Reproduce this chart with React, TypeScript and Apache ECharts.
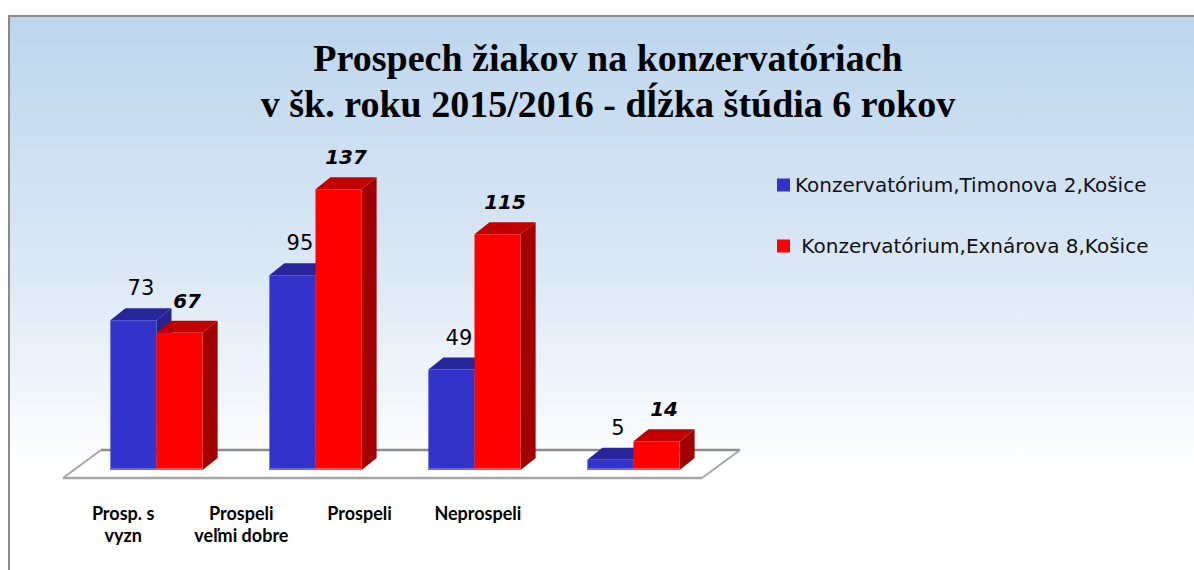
import React, { useEffect, useRef } from "react";
import * as echarts from "echarts";

const categories = ["Prosp. s\nvyzn", "Prospeli\nveľmi dobre", "Prospeli", "Neprospeli"];
const timonova = [73, 95, 49, 5];
const exnarova = [67, 137, 115, 14];
const seriesNames = ["Konzervatórium,Timonova 2,Košice", " Konzervatórium,Exnárova 8,Košice"];
const titleLines = ["Prospech žiakov na konzervatóriach", "v šk. roku 2015/2016 - dĺžka štúdia 6 rokov"];

const DX = 15;
const DY = 12;

type Palette = { front: string; top: string; side: string; light: string };

function makeRender(side: "left" | "right", pal: Palette, labelStyle: any) {
  return (params: any, api: any) => {
    const idx = api.value(0);
    const val = api.value(1);
    const top = api.coord([idx, val]);
    const base = api.coord([idx, 0]);
    const band = api.size([1, 0])[0];
    const w = band * 0.29;
    const x0 = side === "left" ? top[0] - w : top[0];
    const x1 = x0 + w;
    const yT = top[1];
    const yB = base[1];
    return {
      type: "group",
      children: [
        {
          type: "polygon",
          shape: { points: [[x1, yT], [x1 + DX, yT - DY], [x1 + DX, yB - DY], [x1, yB]] },
          style: { fill: pal.side },
        },
        {
          type: "polygon",
          shape: { points: [[x0, yT], [x0 + DX, yT - DY], [x1 + DX, yT - DY], [x1, yT]] },
          style: { fill: pal.top },
        },
        {
          type: "rect",
          shape: { x: x0, y: yT, width: w, height: yB - yT },
          style: { fill: pal.front },
        },
        {
          type: "rect",
          shape: { x: x0, y: yB - 2, width: w, height: 2 },
          style: { fill: pal.light },
        },
        {
          type: "text",
          style: {
            text: String(val),
            x: (x0 + x1) / 2 + DX / 2,
            y: yT - DY - 20,
            align: "center",
            verticalAlign: "middle",
            fill: "#000",
            ...labelStyle,
          },
        },
      ],
    };
  };
}

export default function App() {
  const ref = useRef<HTMLDivElement>(null);
  useEffect(() => {
    if (!ref.current) return;
    const chart = echarts.init(ref.current, undefined, { renderer: "svg" });
    const bluePal = { front: "#3333cc", top: "#26269a", side: "#23238f", light: "#6a6ad8" };
    const redPal = { front: "#ff0000", top: "#c00000", side: "#a00000", light: "#ff5050" };
    chart.setOption({
      animation: false,
      backgroundColor: "#ffffff",
      title: {
        text: titleLines.join("\n"),
        left: 608,
        top: 35,
        padding: 0,
        textAlign: "center",
        textStyle: {
          fontFamily: "Liberation Serif",
          fontWeight: "bold",
          fontSize: 38,
          lineHeight: 46,
          color: "#000",
        },
      },
      legend: {
        orient: "vertical",
        left: 777,
        top: 175,
        padding: 0,
        itemWidth: 13,
        itemHeight: 13,
        itemGap: 41,
        icon: "rect",
        data: seriesNames,
        textStyle: { fontFamily: "DejaVu Sans", fontSize: 20, color: "#111" },
      },
      graphic: [
        {
          type: "rect",
          z: -20,
          silent: true,
          shape: { x: 9, y: 16, width: 1200, height: 570 },
          style: {
            fill: new echarts.graphic.LinearGradient(0, 0, 0, 1, [
              { offset: 0, color: "#bdd6ee" },
              { offset: 0.45, color: "#dce8f5" },
              { offset: 0.8, color: "#ffffff" },
              { offset: 1, color: "#ffffff" },
            ]),
            stroke: "#8a8a8a",
            lineWidth: 2,
          },
        },
        {
          type: "polygon",
          z: -10,
          silent: true,
          shape: { points: [[63, 478], [101, 450], [740, 450], [702, 478]] },
          style: { fill: "rgba(255,255,255,0.7)" },
        },
        {
          type: "line",
          z: -9,
          silent: true,
          shape: { x1: 101, y1: 450, x2: 740, y2: 450 },
          style: { stroke: "#8c8c8c", lineWidth: 2.5 },
        },
        {
          type: "line",
          z: -9,
          silent: true,
          shape: { x1: 63, y1: 478, x2: 702, y2: 478 },
          style: { stroke: "#a6a6a6", lineWidth: 2.5 },
        },
        {
          type: "line",
          z: -9,
          silent: true,
          shape: { x1: 63, y1: 478, x2: 101, y2: 450 },
          style: { stroke: "#a6a6a6", lineWidth: 2 },
        },
        {
          type: "line",
          z: -9,
          silent: true,
          shape: { x1: 702, y1: 478, x2: 740, y2: 450 },
          style: { stroke: "#a6a6a6", lineWidth: 2 },
        },
      ],
      grid: [
        { left: 77, width: 636, top: 183, bottom: 100 },
        { left: 64, width: 473, top: 300, bottom: 76 },
      ],
      xAxis: [
        { type: "category", gridIndex: 0, data: categories, show: false },
        {
          type: "category",
          gridIndex: 1,
          data: categories,
          axisLine: { show: false },
          axisTick: { show: false },
          axisLabel: {
            interval: 0,
            margin: 8,
            fontFamily: "Lato",
            fontWeight: "bold",
            fontSize: 18,
            lineHeight: 22,
            color: "#000",
          },
        },
      ],
      yAxis: [
        { type: "value", gridIndex: 0, min: 0, max: 140, show: false },
        { type: "value", gridIndex: 1, show: false },
      ],
      series: [
        {
          type: "custom",
          name: seriesNames[0],
          xAxisIndex: 0,
          yAxisIndex: 0,
          z: 10,
          itemStyle: { color: bluePal.front },
          data: timonova.map((v, i) => [i, v]),
          encode: { x: 0, y: 1 },
          renderItem: makeRender("left", bluePal, {
            fontFamily: "DejaVu Sans",
            fontSize: 21,
          }),
        },
        {
          type: "custom",
          name: seriesNames[1],
          xAxisIndex: 0,
          yAxisIndex: 0,
          z: 11,
          itemStyle: { color: redPal.front },
          data: exnarova.map((v, i) => [i, v]),
          encode: { x: 0, y: 1 },
          renderItem: makeRender("right", redPal, {
            fontFamily: "DejaVu Sans",
            fontSize: 20,
            fontWeight: "bold",
            fontStyle: "italic",
          }),
        },
      ],
    });
    return () => chart.dispose();
  }, []);
  return (
    <div
      ref={ref}
      style={{ position: "fixed", left: 0, top: 0, width: 1194, height: 570 }}
    />
  );
}
